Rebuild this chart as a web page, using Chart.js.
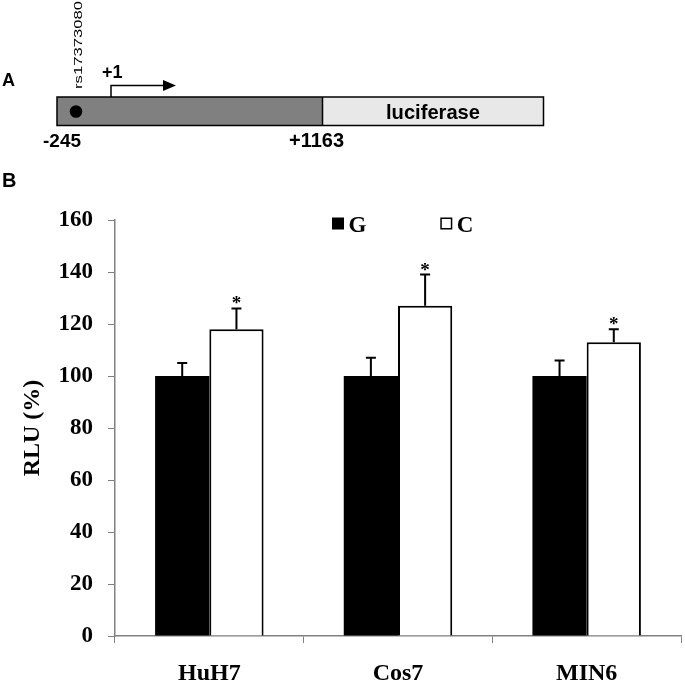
<!DOCTYPE html>
<html>
<head>
<meta charset="utf-8">
<script src="https://cdn.jsdelivr.net/npm/chart.js@4.4.1/dist/chart.umd.min.js"></script>
<style>
  body { margin: 0; background: #fff; }
  .wrap { position: relative; width: 685px; height: 686px; }
  #chart, .schema { position: absolute; left: 0; top: 0; }
</style>
</head>
<body>
<div class="wrap">
  <canvas id="chart" width="685" height="686"></canvas>
  <!-- panel A: promoter construct -->
  <svg class="schema" width="685" height="200" font-family="Liberation Sans, Arial, sans-serif">
    <text x="2" y="86" font-size="18" font-weight="bold">A</text>
    <text transform="translate(81.5,89) rotate(-90)" font-size="11" textLength="88" lengthAdjust="spacingAndGlyphs">rs17373080</text>
    <text x="102" y="78" font-size="18" font-weight="bold">+1</text>
    <path d="M111 97 V85.5 H164" fill="none" stroke="#000" stroke-width="1.5"/>
    <polygon points="163,80 176,85.5 163,91" fill="#000"/>
    <rect x="57" y="97" width="265.5" height="28.5" fill="#808080"/>
    <rect x="322.5" y="97" width="221" height="28.5" fill="#e8e8e8"/>
    <rect x="57" y="97" width="486.5" height="28.5" fill="none" stroke="#000" stroke-width="1.5"/>
    <line x1="322.5" y1="97" x2="322.5" y2="125.5" stroke="#000" stroke-width="1.5"/>
    <circle cx="76" cy="111.5" r="6.3" fill="#000"/>
    <text x="433" y="119.3" font-size="21" font-weight="bold" text-anchor="middle" textLength="94" lengthAdjust="spacingAndGlyphs">luciferase</text>
    <text x="43" y="146.7" font-size="19" font-weight="bold">-245</text>
    <text x="289" y="147.3" font-size="20" font-weight="bold">+1163</text>
    <text x="2" y="187" font-size="20" font-weight="bold">B</text>
  </svg>
</div>
<script>
const cellLines = ['HuH7', 'Cos7', 'MIN6'];
const alleles = ['G', 'C'];
const valuesG = [100, 100, 100];
const valuesC = [118, 127, 113];
const errorsG = [5, 7, 6];
const errorsC = [8, 12, 5];
const starsC = ['*', '*', '*'];
const yMax = 160;
const yStep = 20;

const serif = 'Liberation Serif, Times New Roman, serif';
const ctx = document.getElementById('chart').getContext('2d');

// upper error bars + significance stars
const errorBars = {
  id: 'errorBars',
  afterDatasetsDraw(chart) {
    const c = chart.ctx;
    const y = chart.scales.y;
    chart.data.datasets.forEach((ds, i) => {
      const meta = chart.getDatasetMeta(i);
      meta.data.forEach((bar, j) => {
        const top = y.getPixelForValue(ds.data[j] + ds.errors[j]);
        c.save();
        c.strokeStyle = '#000';
        c.lineWidth = 2;
        c.beginPath();
        c.moveTo(bar.x, bar.y);
        c.lineTo(bar.x, top);
        c.moveTo(bar.x - 5, top);
        c.lineTo(bar.x + 5, top);
        c.stroke();
        if (ds.stars && ds.stars[j]) {
          c.fillStyle = '#000';
          c.font = `bold 19px ${serif}`;
          c.textAlign = 'center';
          c.textBaseline = 'alphabetic';
          c.fillText(ds.stars[j], bar.x, top + 1);
        }
        c.restore();
      });
    });
  },
};

// legend drawn over the top of the plot
const boxLegend = {
  id: 'boxLegend',
  afterDraw(chart) {
    const c = chart.ctx;
    const area = chart.chartArea;
    const mid = (area.left + area.right) / 2;
    const y = 223.5;
    chart.data.datasets.forEach((ds, i) => {
      const x = mid - 66 + i * 108.3;
      c.save();
      if (ds.backgroundColor === '#000') {
        c.fillStyle = '#000';
        c.fillRect(x, y - 6, 12, 12);
      } else {
        c.strokeStyle = '#000';
        c.lineWidth = 1.5;
        c.strokeRect(x + 0.75, y - 5.25, 10.5, 10.5);
      }
      c.fillStyle = '#000';
      c.font = `bold 23px ${serif}`;
      c.textBaseline = 'alphabetic';
      c.fillText(ds.label, x + 16.5, y + 8);
      c.restore();
    });
  },
};

const chart = new Chart(ctx, {
  type: 'bar',
  data: {
    labels: cellLines,
    datasets: [{
      label: alleles[0],
      data: valuesG,
      errors: errorsG,
      backgroundColor: '#000',
      borderColor: '#000',
      borderWidth: 0,
    }, {
      label: alleles[1],
      data: valuesC,
      errors: errorsC,
      stars: starsC,
      backgroundColor: '#fff',
      borderColor: '#000',
      borderWidth: 2,
    }],
  },
  options: {
    responsive: false,
    animation: false,
    layout: { padding: { top: 220, right: 4, left: 0, bottom: 0 } },
    categoryPercentage: 0.575,
    barPercentage: 1,
    plugins: {
      legend: { display: false },
      tooltip: { enabled: false },
    },
    scales: {
      x: {
        afterFit: (scale) => { scale.height = 50; },
        grid: { offset: true, drawOnChartArea: false, tickLength: 7, color: '#808080' },
        border: { color: '#808080', width: 1.5 },
        ticks: { color: '#000', padding: 16, font: { family: serif, size: 24, weight: 'bold' } },
      },
      y: {
        min: 0,
        max: yMax,
        afterFit: (scale) => { scale.width = 115; },
        grid: { drawOnChartArea: false, tickLength: 7, color: '#808080' },
        border: { color: '#808080', width: 1.5 },
        ticks: { stepSize: yStep, color: '#000', padding: 15, font: { family: serif, size: 23, weight: 'bold' } },
        title: {
          display: true,
          text: 'RLU (%)',
          color: '#000',
          padding: { top: 18, bottom: 0 },
          font: { family: serif, size: 24, weight: 'bold' },
        },
      },
    },
  },
  plugins: [errorBars, boxLegend],
});
</script>
</body>
</html>
